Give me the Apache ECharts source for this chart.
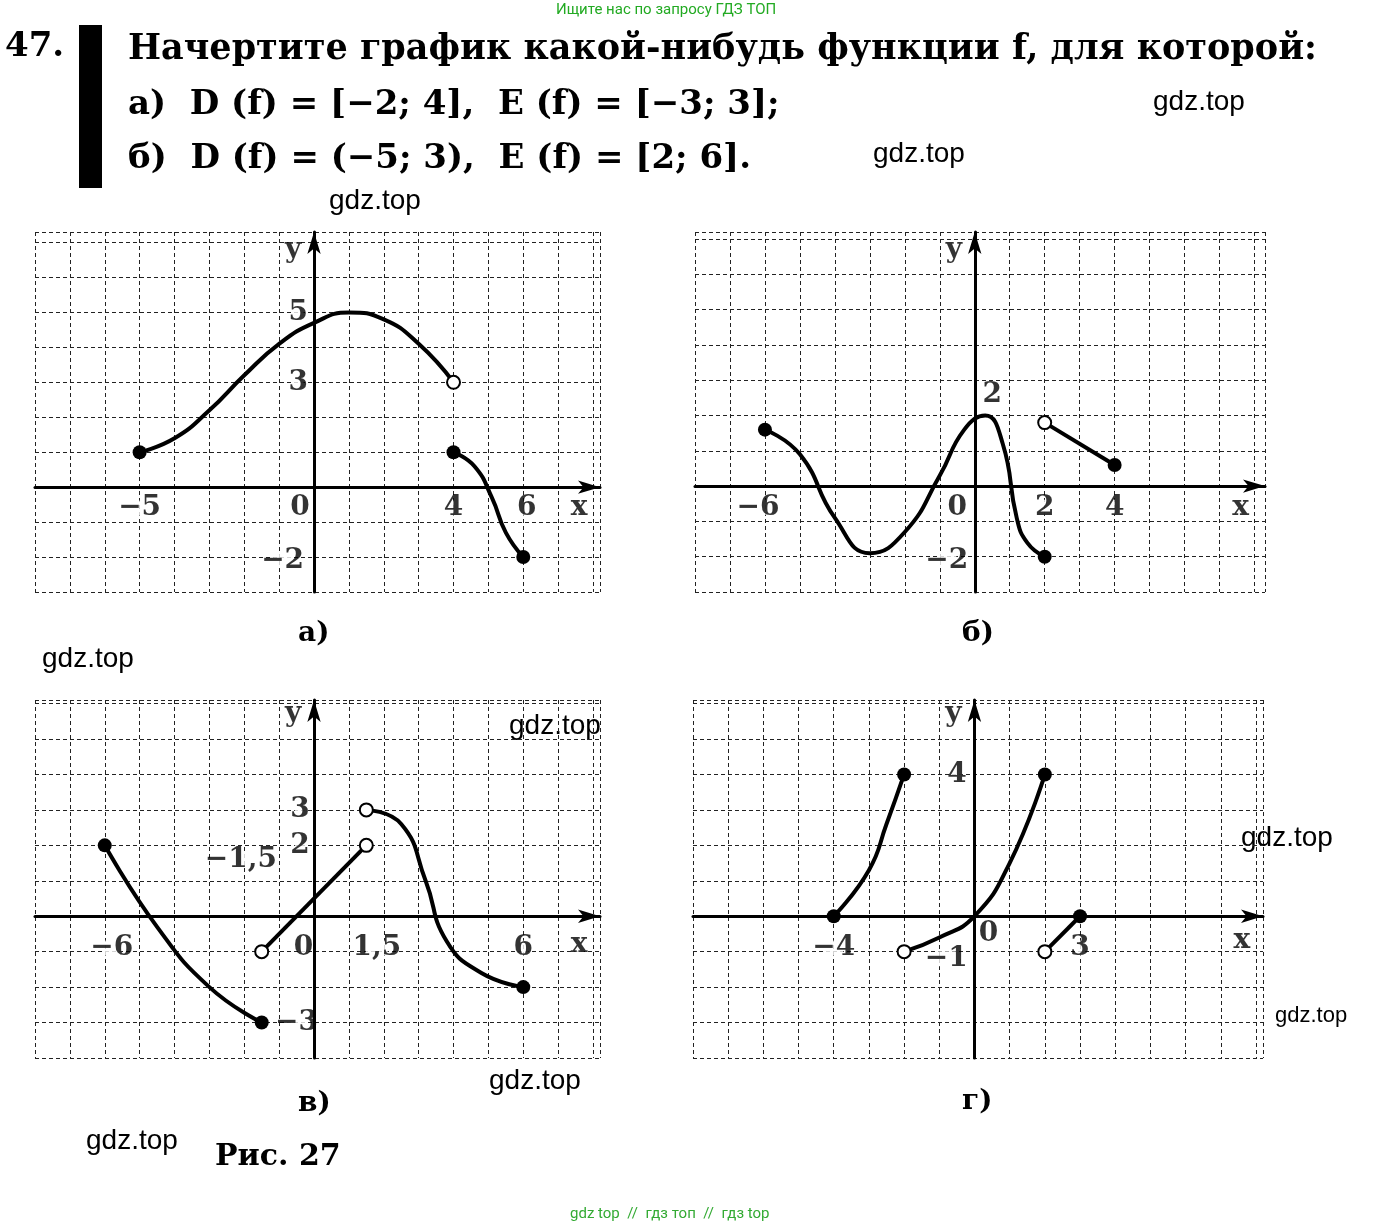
<!DOCTYPE html><html><head><meta charset="utf-8"><script src="https://cdn.jsdelivr.net/npm/echarts@6/dist/echarts.min.js"></script>
<style>body{margin:0;background:#fff}#c{width:1373px;height:1231px}</style></head><body><div id="c"></div><script>
const ranges=[{x:[-8,8.2],y:[-3,7.3]},{x:[-8,8.3],y:[-3,7.2]},{x:[-8,8.2],y:[-4,6.1]},{x:[-8,8.2],y:[-4,6.1]}];
const gridsPx=[{left:35,top:232,width:565,height:360},{left:695,top:232,width:570,height:360},{left:35,top:700,width:565,height:358},{left:693,top:700,width:570,height:358}];
const curves=[
 [0,[[-5,1],[-4,1.4],[-3,2.2],[-2,3.2],[-1,4.1],[0,4.7],[1,5],[2,4.8],[3,4.1],[4,3]]],
 [0,[[4,1],[4.6,0.6],[5.1,-0.3],[5.5,-1.3],[6,-2]]],
 [1,[[-6,1.6],[-5,0.9],[-4,-0.9],[-3,-1.9],[-2,-1.3],[-1,0.3],[-0.3,1.6],[0.3,2],[0.8,1.2],[1.2,-0.9],[1.5,-1.6],[2,-2]]],
 [1,[[2,1.8],[4,0.6]]],
 [2,[[-6,2],[-4.5,-0.3],[-3,-2],[-1.5,-3]]],
 [2,[[-1.5,-1],[1.5,2]]],
 [2,[[1.5,3],[2.5,2.6],[3.2,1],[3.8,-0.7],[4.8,-1.6],[6,-2]]],
 [3,[[-4,0],[-3,1.3],[-2.5,2.6],[-2,4]]],
 [3,[[-2,-1],[-1,-0.6],[0,0],[1,1.5],[2,4]]],
 [3,[[2,-1],[3,0]]]
];
const filled=[[0,-5,1],[0,4,1],[0,6,-2],[1,-6,1.6],[1,2,-2],[1,4,0.6],[2,-6,2],[2,-1.5,-3],[2,6,-2],[3,-4,0],[3,-2,4],[3,2,4],[3,3,0]];
const hollow=[[0,4,3],[1,2,1.8],[2,-1.5,-1],[2,1.5,2],[2,1.5,3],[3,-2,-1],[3,2,-1]];
const tickLabels=[
 [0,-5,-0.6,'−5'],[0,-0.4,-0.6,'0'],[0,4,-0.6,'4'],[0,6.1,-0.6,'6'],[0,7.6,-0.6,'x'],[0,-0.45,5,'5'],[0,-0.45,3,'3'],[0,-0.9,-2.1,'−2'],[0,-0.6,6.8,'y'],
 [1,-6.2,-0.6,'−6'],[1,-0.5,-0.6,'0'],[1,2,-0.6,'2'],[1,4,-0.6,'4'],[1,7.6,-0.6,'x'],[1,0.5,2.6,'2'],[1,-0.8,-2.1,'−2'],[1,-0.6,6.7,'y'],
 [2,-5.8,-0.9,'−6'],[2,-0.3,-0.9,'0'],[2,1.8,-0.9,'1,5'],[2,6,-0.9,'6'],[2,7.6,-0.8,'x'],[2,-0.4,3,'3'],[2,-0.4,2,'2'],[2,-2.1,1.6,'−1,5'],[2,-0.5,-3,'−3'],[2,-0.6,5.7,'y'],
 [3,-4,-0.9,'−4'],[3,0.4,-0.5,'0'],[3,3,-0.9,'3'],[3,7.6,-0.7,'x'],[3,-0.5,4,'4'],[3,-0.8,-1.2,'−1'],[3,-0.6,5.7,'y']
];
const captions=['а)','б)','в)','г)'];
const F='"DejaVu Serif","Liberation Serif",serif';
const grid=gridsPx,xAxis=[],yAxis=[],series=[];
const sl={show:true,lineStyle:{color:'#222',type:[4,3],width:1}};
ranges.forEach((r,i)=>{
 xAxis.push({type:'value',gridIndex:i,min:r.x[0],max:r.x[1],interval:1,axisLabel:{show:false},axisTick:{show:false},splitLine:sl,
  axisLine:{onZero:true,symbol:['none','arrow'],symbolSize:[10,22],lineStyle:{color:'#000',width:3}}});
 yAxis.push({type:'value',gridIndex:i,min:r.y[0],max:r.y[1],interval:1,axisLabel:{show:false},axisTick:{show:false},splitLine:sl,
  axisLine:{onZero:true,symbol:['none','arrow'],symbolSize:[10,22],lineStyle:{color:'#000',width:3}}});
});
curves.forEach(([p,pts])=>series.push({type:'line',xAxisIndex:p,yAxisIndex:p,data:pts,smooth:0.5,showSymbol:false,lineStyle:{color:'#000',width:4},z:3}));
for(let p=0;p<4;p++){
 series.push({type:'scatter',xAxisIndex:p,yAxisIndex:p,data:filled.filter(d=>d[0]===p).map(d=>[d[1],d[2]]),symbolSize:14,itemStyle:{color:'#000',opacity:1},z:5});
 series.push({type:'scatter',xAxisIndex:p,yAxisIndex:p,data:hollow.filter(d=>d[0]===p).map(d=>[d[1],d[2]]),symbolSize:13,itemStyle:{color:'#fff',borderColor:'#000',borderWidth:2,opacity:1},z:5});
 series.push({type:'scatter',xAxisIndex:p,yAxisIndex:p,symbolSize:0,z:6,data:tickLabels.filter(d=>d[0]===p).map(d=>({value:[d[1],d[2]],name:d[3]})),
  label:{show:true,position:'inside',formatter:'{b}',fontFamily:F,fontSize:28,fontWeight:'bold',fontStyle:d=>'normal',color:'#000',backgroundColor:'#fff',padding:[0,1]}});
}
const gfx=[
 {type:'text',left:556,top:3,style:{text:'Ищите нас по запросу ГДЗ ТОП',fill:'#2a2',font:'15px Roboto'}},
 {type:'text',left:5,top:30,style:{text:'47.',fill:'#000',font:'bold 34px '+F}},
 {type:'rect',shape:{x:79,y:25,width:23,height:163},style:{fill:'#000'}},
 {type:'text',left:128,top:32,style:{text:'Начертите график какой-нибудь функции f, для которой:',fill:'#000',font:'bold 35px '+F}},
 {type:'text',left:128,top:88,style:{text:'а)  D (f) = [−2; 4],  E (f) = [−3; 3];',fill:'#000',font:'bold 34px '+F}},
 {type:'text',left:128,top:142,style:{text:'б)  D (f) = (−5; 3),  E (f) = [2; 6].',fill:'#000',font:'bold 34px '+F}},
 {type:'text',left:215,top:1142,style:{text:'Рис. 27',fill:'#000',font:'bold 30px '+F}},
 {type:'text',left:570,top:1207,style:{text:'gdz top  //  гдз топ  //  гдз top',fill:'#3a3',font:'15px Roboto'}}
];
[[1153,88,28],[873,140,28],[329,187,28],[42,645,28],[509,712,28],[1241,824,28],[1275,1005,22],[489,1067,28],[86,1127,28]].forEach(w=>gfx.push({type:'text',left:w[0],top:w[1],style:{text:'gdz.top',fill:'#000',font:w[2]+'px "Liberation Sans",Arial'}}));
[[298,620],[962,620],[298,1090],[962,1088]].forEach((c,i)=>gfx.push({type:'text',left:c[0],top:c[1],style:{text:captions[i],fill:'#000',font:'bold 28px '+F}}));
const ch=echarts.init(document.getElementById('c'));
ch.setOption({animation:false,grid,xAxis,yAxis,series,graphic:gfx});
</script></body></html>
